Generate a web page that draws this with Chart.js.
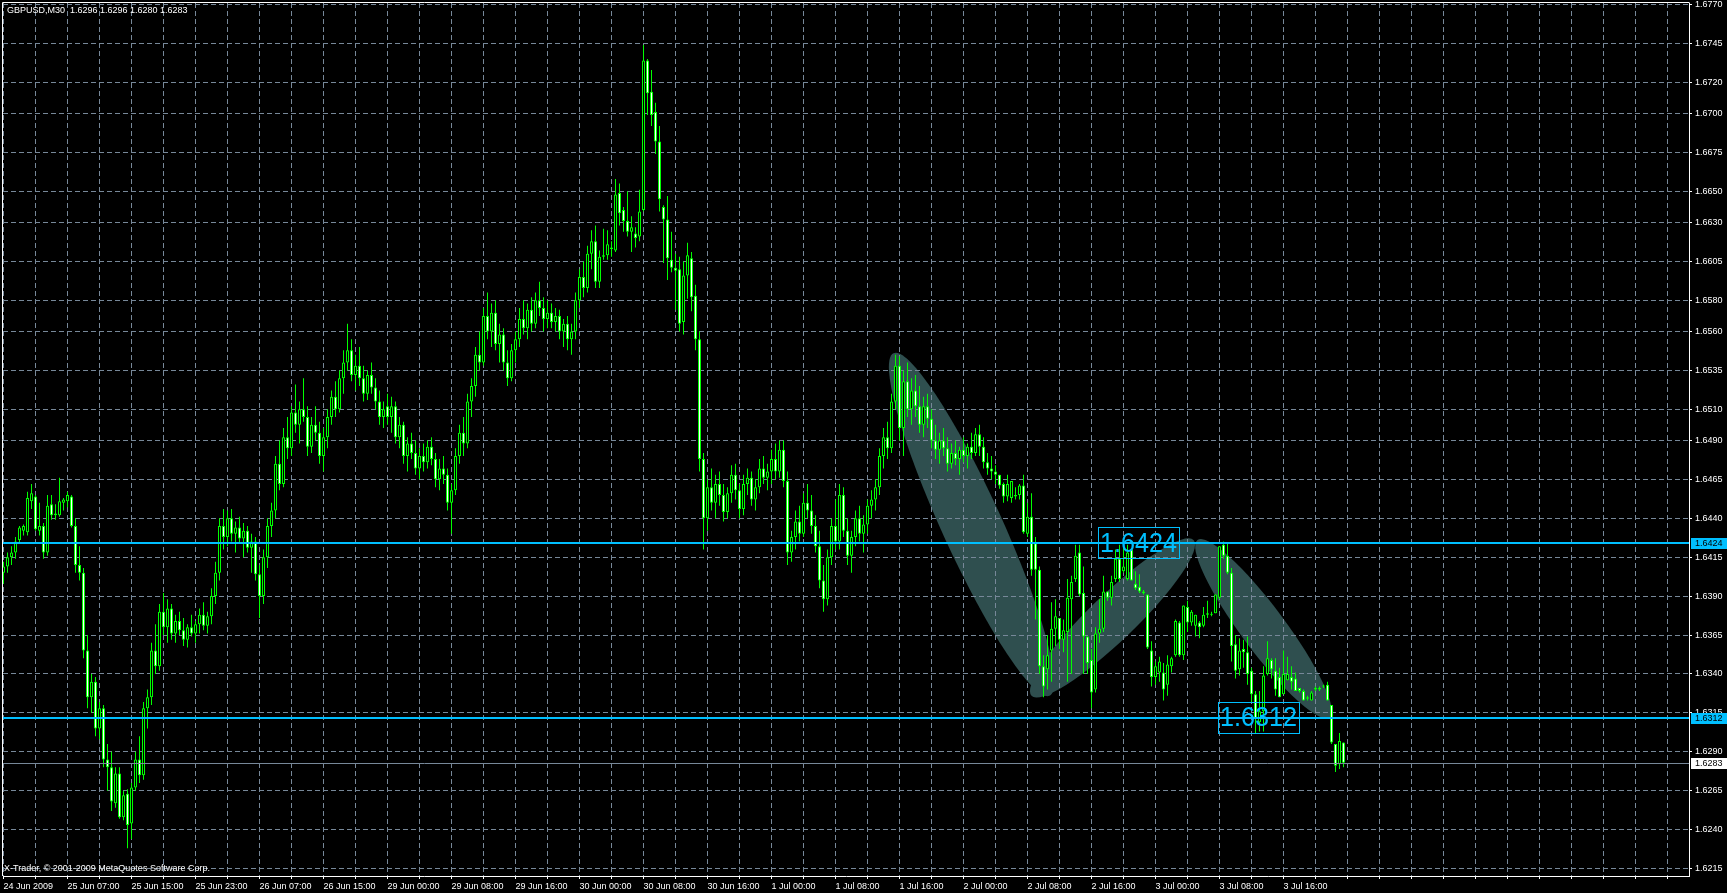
<!DOCTYPE html>
<html>
<head>
<meta charset="utf-8">
<title>GBPUSD,M30</title>
<script src="https://cdn.jsdelivr.net/npm/chart.js@4.4.0/dist/chart.umd.min.js"></script>
<style>
  html, body { margin: 0; padding: 0; background: #000; overflow: hidden; }
  #wrap { width: 1727px; height: 893px; }
</style>
</head>
<body>
<div id="wrap"><canvas id="chart" width="1727" height="893"></canvas></div>
<script>
// GBPUSD M30 bars, 24 Jun 2009 23:00 .. 3 Jul 2009 23:30
const opens = [
  1.6405, 1.6409, 1.6415, 1.6418, 1.6426, 1.6432, 1.6431, 1.6451, 1.6454, 1.6432, 1.6435, 1.6418,
  1.6449, 1.6442, 1.6442, 1.6450, 1.6451, 1.6454, 1.6435, 1.6410, 1.6405, 1.6355, 1.6325, 1.6335,
  1.6305, 1.6318, 1.6285, 1.6280, 1.6257, 1.6276, 1.6248, 1.6263, 1.6244, 1.6267, 1.6285, 1.6275,
  1.6318, 1.6325, 1.6355, 1.6345, 1.6380, 1.6370, 1.6382, 1.6366, 1.6374, 1.6368, 1.6362, 1.6370,
  1.6366, 1.6372, 1.6378, 1.6371, 1.6377, 1.6390, 1.6405, 1.6435, 1.6428, 1.6440, 1.6430, 1.6434,
  1.6427, 1.6432, 1.6421, 1.6425, 1.6404, 1.6390, 1.6415, 1.6435, 1.6445, 1.6475, 1.6462, 1.6492,
  1.6485, 1.6508, 1.6500, 1.6510, 1.6505, 1.6486, 1.6500, 1.6495, 1.6480, 1.6492, 1.6505, 1.6518,
  1.6510, 1.6530, 1.6540, 1.6548, 1.6532, 1.6538, 1.6530, 1.6520, 1.6532, 1.6524, 1.6515, 1.6505,
  1.6512, 1.6505, 1.6512, 1.6492, 1.6500, 1.6480, 1.6488, 1.6482, 1.6472, 1.6480, 1.6476, 1.6486,
  1.6478, 1.6465, 1.6472, 1.6468, 1.6450, 1.6458, 1.6480, 1.6495, 1.6488, 1.6515, 1.6525, 1.6545,
  1.6540, 1.6570, 1.6560, 1.6572, 1.6552, 1.6558, 1.6540, 1.6530, 1.6548, 1.6555, 1.6568, 1.6562,
  1.6574, 1.6565, 1.6580, 1.6575, 1.6568, 1.6572, 1.6566, 1.6570, 1.6560, 1.6565, 1.6555, 1.6560,
  1.6580, 1.6595, 1.6588, 1.6610, 1.6618, 1.6592, 1.6608, 1.6609, 1.6614, 1.6612, 1.6649, 1.6638,
  1.6631, 1.6624, 1.6623, 1.6621, 1.6638, 1.6734, 1.6714, 1.6701, 1.6682, 1.6640, 1.6632, 1.6606,
  1.6601, 1.6600, 1.6566, 1.6596, 1.6607, 1.6583, 1.6555, 1.6478, 1.6440, 1.6460, 1.6450, 1.6462,
  1.6455, 1.6444, 1.6456, 1.6468, 1.6458, 1.6446, 1.6462, 1.6466, 1.6452, 1.6460, 1.6472, 1.6466,
  1.6470, 1.6478, 1.6470, 1.6484, 1.6464, 1.6418, 1.6428, 1.6438, 1.6430, 1.6450, 1.6445, 1.6435,
  1.6422, 1.6400, 1.6388, 1.6415, 1.6435, 1.6425, 1.6455, 1.6432, 1.6416, 1.6428, 1.6440, 1.6430,
  1.6436, 1.6448, 1.6452, 1.6460, 1.6480, 1.6492, 1.6485, 1.6515, 1.6538, 1.6498, 1.6528, 1.6510,
  1.6522, 1.6512, 1.6500, 1.6512, 1.6504, 1.6490, 1.6484, 1.6490, 1.6485, 1.6475, 1.6482, 1.6478,
  1.6484, 1.6480, 1.6486, 1.6482, 1.6494, 1.6486, 1.6476, 1.6472, 1.6470, 1.6468, 1.6462, 1.6454,
  1.6453, 1.6454, 1.6455, 1.6461, 1.6430, 1.6441, 1.6424, 1.6407, 1.6345, 1.6343, 1.6355, 1.6369,
  1.6376, 1.6362, 1.6367, 1.6388, 1.6401, 1.6418, 1.6392, 1.6364, 1.6349, 1.6330, 1.6366, 1.6369,
  1.6393, 1.6389, 1.6401, 1.6414, 1.6406, 1.6401, 1.6420, 1.6398, 1.6396, 1.6393, 1.6391, 1.6355,
  1.6338, 1.6341, 1.6341, 1.6333, 1.6345, 1.6352, 1.6373, 1.6352, 1.6383, 1.6373, 1.6371, 1.6373,
  1.6371, 1.6378, 1.6378, 1.6379, 1.6389, 1.6423, 1.6416, 1.6405, 1.6359, 1.6343, 1.6356, 1.6354,
  1.6342, 1.6327, 1.6309, 1.6316, 1.6340, 1.6349, 1.6342, 1.6338, 1.6327, 1.6336, 1.6338, 1.6337,
  1.6331, 1.6329, 1.6325, 1.6323, 1.6330, 1.6330, 1.6332, 1.6333, 1.6320, 1.6295, 1.6282, 1.6296
];
const highs = [
  1.6412, 1.6418, 1.6422, 1.6428, 1.6435, 1.6436, 1.6457, 1.6462, 1.6455, 1.6450, 1.6437, 1.6455,
  1.6455, 1.6449, 1.6466, 1.6453, 1.6457, 1.6455, 1.6440, 1.6422, 1.6408, 1.6365, 1.6340, 1.6338,
  1.6322, 1.6320, 1.6295, 1.6290, 1.6280, 1.6280, 1.6265, 1.6266, 1.6270, 1.6290, 1.6300, 1.6322,
  1.6330, 1.6360, 1.6372, 1.6385, 1.6392, 1.6388, 1.6385, 1.6378, 1.6380, 1.6376, 1.6372, 1.6378,
  1.6374, 1.6382, 1.6386, 1.6380, 1.6395, 1.6412, 1.6440, 1.6446, 1.6445, 1.6446, 1.6438, 1.6441,
  1.6437, 1.6435, 1.6430, 1.6428, 1.6410, 1.6420, 1.6440, 1.6450, 1.6480, 1.6490, 1.6498, 1.6505,
  1.6512, 1.6526, 1.6515, 1.6530, 1.6512, 1.6505, 1.6512, 1.6502, 1.6498, 1.6510, 1.6522, 1.6528,
  1.6535, 1.6548, 1.6565, 1.6555, 1.6545, 1.6550, 1.6538, 1.6535, 1.6540, 1.6530, 1.6522, 1.6515,
  1.6520, 1.6518, 1.6515, 1.6505, 1.6502, 1.6492, 1.6495, 1.6490, 1.6485, 1.6488, 1.6490, 1.6492,
  1.6482, 1.6478, 1.6480, 1.6472, 1.6462, 1.6485, 1.6500, 1.6505, 1.6520, 1.6530, 1.6550, 1.6560,
  1.6575, 1.6585, 1.6578, 1.6580, 1.6565, 1.6562, 1.6548, 1.6552, 1.6560, 1.6575, 1.6580, 1.6578,
  1.6582, 1.6585, 1.6592, 1.6582, 1.6580, 1.6578, 1.6575, 1.6574, 1.6568, 1.6570, 1.6565, 1.6585,
  1.6600, 1.6605, 1.6615, 1.6625, 1.6628, 1.6612, 1.6626, 1.6625, 1.6618, 1.6658, 1.6655, 1.6640,
  1.6650, 1.6634, 1.6627, 1.6651, 1.6744, 1.6735, 1.6728, 1.6707, 1.6692, 1.6641, 1.6647, 1.6624,
  1.6610, 1.6608, 1.6605, 1.6617, 1.6611, 1.6590, 1.6560, 1.6482, 1.6465, 1.6472, 1.6468, 1.6470,
  1.6462, 1.6460, 1.6474, 1.6475, 1.6462, 1.6468, 1.6472, 1.6470, 1.6465, 1.6478, 1.6480, 1.6475,
  1.6484, 1.6488, 1.6490, 1.6490, 1.6470, 1.6432, 1.6445, 1.6448, 1.6456, 1.6462, 1.6455, 1.6442,
  1.6432, 1.6410, 1.6420, 1.6440, 1.6452, 1.6462, 1.6460, 1.6440, 1.6432, 1.6445, 1.6448, 1.6442,
  1.6452, 1.6458, 1.6465, 1.6485, 1.6498, 1.6502, 1.6520, 1.6545, 1.6544, 1.6535, 1.6540, 1.6530,
  1.6532, 1.6525, 1.6518, 1.6520, 1.6510, 1.6500, 1.6495, 1.6498, 1.6492, 1.6488, 1.6490, 1.6486,
  1.6492, 1.6488, 1.6495, 1.6498, 1.6500, 1.6492, 1.6482, 1.6480, 1.6474, 1.6468, 1.6463, 1.6468,
  1.6464, 1.6460, 1.6462, 1.6468, 1.6450, 1.6456, 1.6428, 1.6409, 1.6352, 1.6365, 1.6386, 1.6388,
  1.6376, 1.6375, 1.6401, 1.6403, 1.6423, 1.6423, 1.6409, 1.6364, 1.6356, 1.6370, 1.6388, 1.6403,
  1.6393, 1.6403, 1.6420, 1.6423, 1.6422, 1.6423, 1.6420, 1.6406, 1.6404, 1.6394, 1.6391, 1.6361,
  1.6348, 1.6351, 1.6347, 1.6352, 1.6351, 1.6375, 1.6374, 1.6384, 1.6387, 1.6381, 1.6378, 1.6374,
  1.6383, 1.6387, 1.6380, 1.6391, 1.6422, 1.6425, 1.6424, 1.6408, 1.6365, 1.6363, 1.6362, 1.6364,
  1.6344, 1.6329, 1.6329, 1.6345, 1.6361, 1.6350, 1.6350, 1.6344, 1.6355, 1.6351, 1.6345, 1.6341,
  1.6331, 1.6330, 1.6326, 1.6329, 1.6332, 1.6332, 1.6333, 1.6335, 1.6320, 1.6295, 1.6302, 1.6296
];
const lows = [
  1.6398, 1.6405, 1.6410, 1.6414, 1.6424, 1.6429, 1.6429, 1.6446, 1.6432, 1.6429, 1.6414, 1.6416,
  1.6439, 1.6439, 1.6441, 1.6445, 1.6447, 1.6434, 1.6405, 1.6400, 1.6350, 1.6318, 1.6315, 1.6300,
  1.6298, 1.6280, 1.6265, 1.6252, 1.6254, 1.6247, 1.6246, 1.6228, 1.6234, 1.6265, 1.6270, 1.6272,
  1.6305, 1.6320, 1.6340, 1.6342, 1.6365, 1.6360, 1.6362, 1.6360, 1.6365, 1.6358, 1.6357, 1.6364,
  1.6360, 1.6366, 1.6368, 1.6366, 1.6372, 1.6385, 1.6400, 1.6420, 1.6422, 1.6425, 1.6418, 1.6424,
  1.6415, 1.6418, 1.6405, 1.6400, 1.6376, 1.6385, 1.6408, 1.6428, 1.6440, 1.6458, 1.6460, 1.6478,
  1.6480, 1.6495, 1.6488, 1.6502, 1.6480, 1.6482, 1.6490, 1.6475, 1.6470, 1.6485, 1.6500, 1.6505,
  1.6508, 1.6520, 1.6535, 1.6528, 1.6522, 1.6525, 1.6515, 1.6516, 1.6520, 1.6510, 1.6500, 1.6498,
  1.6500, 1.6495, 1.6488, 1.6485, 1.6475, 1.6470, 1.6478, 1.6468, 1.6465, 1.6470, 1.6472, 1.6474,
  1.6460, 1.6458, 1.6462, 1.6445, 1.6430, 1.6455, 1.6475, 1.6480, 1.6485, 1.6505, 1.6518, 1.6535,
  1.6538, 1.6555, 1.6550, 1.6548, 1.6540, 1.6535, 1.6525, 1.6528, 1.6540, 1.6550, 1.6558, 1.6555,
  1.6560, 1.6562, 1.6570, 1.6560, 1.6562, 1.6562, 1.6560, 1.6555, 1.6550, 1.6548, 1.6545, 1.6555,
  1.6575, 1.6582, 1.6585, 1.6600, 1.6588, 1.6588, 1.6606, 1.6606, 1.6608, 1.6611, 1.6628, 1.6624,
  1.6621, 1.6611, 1.6614, 1.6618, 1.6637, 1.6699, 1.6692, 1.6674, 1.6637, 1.6604, 1.6593, 1.6598,
  1.6574, 1.6560, 1.6558, 1.6581, 1.6573, 1.6548, 1.6470, 1.6420, 1.6432, 1.6445, 1.6440, 1.6448,
  1.6438, 1.6440, 1.6450, 1.6452, 1.6440, 1.6442, 1.6455, 1.6448, 1.6445, 1.6456, 1.6462, 1.6458,
  1.6462, 1.6465, 1.6466, 1.6460, 1.6410, 1.6412, 1.6420, 1.6425, 1.6428, 1.6440, 1.6430, 1.6418,
  1.6395, 1.6380, 1.6384, 1.6410, 1.6420, 1.6420, 1.6428, 1.6410, 1.6405, 1.6422, 1.6425, 1.6418,
  1.6430, 1.6440, 1.6445, 1.6455, 1.6472, 1.6478, 1.6482, 1.6510, 1.6490, 1.6480, 1.6505, 1.6500,
  1.6505, 1.6495, 1.6492, 1.6498, 1.6485, 1.6478, 1.6475, 1.6480, 1.6470, 1.6472, 1.6474, 1.6468,
  1.6476, 1.6472, 1.6478, 1.6480, 1.6480, 1.6472, 1.6468, 1.6465, 1.6462, 1.6459, 1.6450, 1.6451,
  1.6450, 1.6452, 1.6452, 1.6430, 1.6428, 1.6403, 1.6375, 1.6340, 1.6325, 1.6330, 1.6335, 1.6358,
  1.6356, 1.6354, 1.6335, 1.6340, 1.6399, 1.6390, 1.6340, 1.6340, 1.6318, 1.6328, 1.6360, 1.6367,
  1.6387, 1.6384, 1.6399, 1.6399, 1.6405, 1.6400, 1.6400, 1.6394, 1.6392, 1.6391, 1.6356, 1.6332,
  1.6333, 1.6335, 1.6323, 1.6326, 1.6341, 1.6351, 1.6351, 1.6349, 1.6367, 1.6371, 1.6364, 1.6363,
  1.6370, 1.6376, 1.6377, 1.6379, 1.6388, 1.6414, 1.6404, 1.6348, 1.6337, 1.6339, 1.6344, 1.6333,
  1.6322, 1.6302, 1.6303, 1.6303, 1.6339, 1.6337, 1.6326, 1.6325, 1.6327, 1.6336, 1.6330, 1.6329,
  1.6328, 1.6323, 1.6323, 1.6323, 1.6329, 1.6329, 1.6331, 1.6323, 1.6295, 1.6277, 1.6279, 1.6280
];
const closes = [
  1.6409, 1.6415, 1.6418, 1.6425, 1.6434, 1.6435, 1.6453, 1.6456, 1.6433, 1.6435, 1.6418, 1.6448,
  1.6442, 1.6443, 1.6451, 1.6452, 1.6455, 1.6435, 1.6410, 1.6405, 1.6355, 1.6325, 1.6335, 1.6305,
  1.6318, 1.6285, 1.6280, 1.6258, 1.6276, 1.6248, 1.6262, 1.6243, 1.6267, 1.6285, 1.6275, 1.6318,
  1.6325, 1.6355, 1.6345, 1.6380, 1.6370, 1.6382, 1.6366, 1.6374, 1.6368, 1.6362, 1.6370, 1.6366,
  1.6372, 1.6378, 1.6371, 1.6377, 1.6390, 1.6405, 1.6435, 1.6428, 1.6440, 1.6430, 1.6434, 1.6427,
  1.6432, 1.6421, 1.6425, 1.6404, 1.6390, 1.6415, 1.6435, 1.6445, 1.6475, 1.6462, 1.6492, 1.6485,
  1.6508, 1.6500, 1.6510, 1.6505, 1.6486, 1.6500, 1.6495, 1.6480, 1.6492, 1.6505, 1.6518, 1.6510,
  1.6530, 1.6540, 1.6548, 1.6532, 1.6538, 1.6530, 1.6520, 1.6532, 1.6524, 1.6515, 1.6505, 1.6510,
  1.6505, 1.6512, 1.6492, 1.6500, 1.6480, 1.6488, 1.6482, 1.6472, 1.6480, 1.6476, 1.6486, 1.6478,
  1.6465, 1.6472, 1.6468, 1.6450, 1.6458, 1.6480, 1.6495, 1.6488, 1.6515, 1.6525, 1.6545, 1.6540,
  1.6570, 1.6560, 1.6572, 1.6552, 1.6558, 1.6540, 1.6530, 1.6548, 1.6555, 1.6568, 1.6562, 1.6574,
  1.6565, 1.6580, 1.6575, 1.6568, 1.6572, 1.6566, 1.6570, 1.6560, 1.6565, 1.6555, 1.6560, 1.6580,
  1.6595, 1.6588, 1.6610, 1.6618, 1.6592, 1.6608, 1.6609, 1.6616, 1.6613, 1.6648, 1.6636, 1.6631,
  1.6624, 1.6627, 1.6620, 1.6637, 1.6734, 1.6713, 1.6699, 1.6682, 1.6645, 1.6632, 1.6607, 1.6601,
  1.6599, 1.6565, 1.6596, 1.6609, 1.6582, 1.6555, 1.6478, 1.6440, 1.6460, 1.6450, 1.6462, 1.6455,
  1.6444, 1.6456, 1.6468, 1.6458, 1.6446, 1.6462, 1.6466, 1.6452, 1.6460, 1.6472, 1.6466, 1.6470,
  1.6478, 1.6470, 1.6484, 1.6464, 1.6418, 1.6428, 1.6438, 1.6430, 1.6450, 1.6445, 1.6435, 1.6422,
  1.6400, 1.6388, 1.6415, 1.6435, 1.6425, 1.6455, 1.6432, 1.6416, 1.6428, 1.6440, 1.6430, 1.6436,
  1.6448, 1.6452, 1.6460, 1.6480, 1.6492, 1.6485, 1.6515, 1.6538, 1.6498, 1.6528, 1.6510, 1.6522,
  1.6512, 1.6500, 1.6512, 1.6504, 1.6490, 1.6484, 1.6490, 1.6485, 1.6475, 1.6482, 1.6478, 1.6484,
  1.6480, 1.6486, 1.6482, 1.6494, 1.6486, 1.6476, 1.6472, 1.6470, 1.6468, 1.6461, 1.6454, 1.6462,
  1.6464, 1.6455, 1.6461, 1.6431, 1.6441, 1.6407, 1.6407, 1.6345, 1.6332, 1.6352, 1.6369, 1.6377,
  1.6362, 1.6368, 1.6389, 1.6399, 1.6416, 1.6391, 1.6364, 1.6347, 1.6328, 1.6366, 1.6369, 1.6393,
  1.6389, 1.6399, 1.6414, 1.6401, 1.6409, 1.6418, 1.6400, 1.6395, 1.6393, 1.6392, 1.6357, 1.6338,
  1.6345, 1.6348, 1.6330, 1.6346, 1.6350, 1.6374, 1.6352, 1.6384, 1.6373, 1.6380, 1.6378, 1.6370,
  1.6378, 1.6379, 1.6378, 1.6391, 1.6422, 1.6416, 1.6405, 1.6358, 1.6342, 1.6355, 1.6354, 1.6340,
  1.6327, 1.6311, 1.6316, 1.6339, 1.6350, 1.6343, 1.6330, 1.6325, 1.6340, 1.6340, 1.6335, 1.6329,
  1.6329, 1.6323, 1.6324, 1.6328, 1.6331, 1.6331, 1.6332, 1.6323, 1.6296, 1.6281, 1.6297, 1.6283
];

// time axis: one label every 16 bars (8 hours)
const timeLabels = [
  '24 Jun 2009', '25 Jun 07:00', '25 Jun 15:00', '25 Jun 23:00', '26 Jun 07:00', '26 Jun 15:00',
  '29 Jun 00:00', '29 Jun 08:00', '29 Jun 16:00', '30 Jun 00:00', '30 Jun 08:00', '30 Jun 16:00',
  '1 Jul 00:00', '1 Jul 08:00', '1 Jul 16:00', '2 Jul 00:00', '2 Jul 08:00', '2 Jul 16:00',
  '3 Jul 00:00', '3 Jul 08:00', '3 Jul 16:00'
];
const priceTicks = [
  1.6215, 1.6240, 1.6265, 1.6290, 1.6315, 1.6340, 1.6365, 1.6390, 1.6415, 1.6440, 1.6465, 1.6490,
  1.6510, 1.6535, 1.6560, 1.6580, 1.6605, 1.6630, 1.6650, 1.6675, 1.6700, 1.6720, 1.6745, 1.6770
];

// horizontal levels and their text labels
const levelPrices = [1.6424, 1.6312];
const levelLabelBars = [283.5, 313.5];
const bidPrice = 1.6283;

// shaded ellipses: [start bar, end bar] and [start price, end price]
const ellipseBars = [[222.5, 261.5], [257, 297.5], [298.5, 331.5]];
const ellipsePrices = [[1.6546, 1.6326], [1.6326, 1.6426], [1.6426, 1.6312]];

const symbolName = 'GBPUSD,M30';
const copyright = 'X-Trader, \u00a9 2001-2009 MetaQuotes Software Corp.';

const LIME = '#00ff00';
const GRID = '#778899';
const CYAN = '#00bfff';
const FONT = "'Liberation Sans', Arial, sans-serif";
const ellipseWidths = [60, 46, 44];

const last = closes.length - 1;
const fmt = v => v.toFixed(4);

// background, ellipses, level lines, text objects, price tags
const mt4Overlay = {
  id: 'mt4Overlay',
  beforeDraw(chart) {
    const { ctx, chartArea: a, scales: { x, y } } = chart;
    ctx.save();
    ctx.fillStyle = '#000';
    ctx.fillRect(0, 0, chart.width, chart.height);
    ctx.beginPath();
    ctx.rect(a.left, a.top, a.right - a.left, a.bottom - a.top);
    ctx.clip();
    ctx.fillStyle = '#2f4f4f';
    ellipseBars.forEach((b, k) => {
      const x1 = x.getPixelForValue(b[0]);
      const x2 = x.getPixelForValue(b[1]);
      const y1 = y.getPixelForValue(ellipsePrices[k][0]);
      const y2 = y.getPixelForValue(ellipsePrices[k][1]);
      const len = Math.hypot(x2 - x1, y2 - y1);
      ctx.beginPath();
      ctx.ellipse((x1 + x2) / 2, (y1 + y2) / 2, len / 2, ellipseWidths[k] / 2,
        Math.atan2(y2 - y1, x2 - x1), 0, Math.PI * 2);
      ctx.fill();
    });
    ctx.restore();
  },
  afterDatasetsDraw(chart) {
    const { ctx, chartArea: a, scales: { x, y } } = chart;
    ctx.save();

    // support / resistance lines
    ctx.strokeStyle = CYAN;
    ctx.lineWidth = 2;
    levelPrices.forEach(p => {
      const py = Math.round(y.getPixelForValue(p));
      ctx.beginPath();
      ctx.moveTo(a.left, py);
      ctx.lineTo(a.right, py);
      ctx.stroke();
    });

    // bid line
    ctx.strokeStyle = GRID;
    ctx.lineWidth = 1;
    const by = Math.round(y.getPixelForValue(bidPrice)) + 0.5;
    ctx.beginPath();
    ctx.moveTo(a.left, by);
    ctx.lineTo(a.right, by);
    ctx.stroke();

    // boxed price texts
    levelLabelBars.forEach((b, k) => {
      const cx = x.getPixelForValue(b);
      const cy = y.getPixelForValue(levelPrices[k]);
      const txt = fmt(levelPrices[k]);
      ctx.strokeStyle = CYAN;
      ctx.lineWidth = 1;
      ctx.strokeRect(Math.round(cx - 40) + 0.5, Math.round(cy - 16) + 0.5, 81, 31);
      ctx.font = '28px ' + FONT;
      const w = ctx.measureText(txt).width;
      ctx.save();
      ctx.translate(cx + 1, cy + 1);
      ctx.scale(77 / w, 1);
      ctx.fillStyle = CYAN;
      ctx.textAlign = 'center';
      ctx.textBaseline = 'middle';
      ctx.fillText(txt, 0, 0);
      ctx.restore();
    });

    // frame
    ctx.strokeStyle = '#ffffff';
    ctx.lineWidth = 1;
    ctx.beginPath();
    ctx.moveTo(a.left - 0.5, a.bottom);
    ctx.lineTo(a.left - 0.5, a.top - 0.5);
    ctx.lineTo(a.right + 0.5, a.top - 0.5);
    ctx.stroke();

    // title and copyright
    ctx.fillStyle = '#ffffff';
    ctx.font = '9px ' + FONT;
    ctx.textAlign = 'left';
    ctx.textBaseline = 'alphabetic';
    const title = symbolName + '  ' + [opens[last], highs[last], lows[last], closes[last]].map(fmt).join(' ');
    ctx.fillText(title, a.left + 4, a.top + 10);
    ctx.fillText(copyright, a.left + 1, a.bottom - 5);
    ctx.restore();
  },
  afterDraw(chart) {
    const { ctx, chartArea: a, scales: { y } } = chart;
    const tags = [levelPrices[0], levelPrices[1], bidPrice];
    const fills = [CYAN, CYAN, '#ffffff'];
    ctx.save();
    ctx.font = '9px ' + FONT;
    ctx.textBaseline = 'middle';
    ctx.textAlign = 'left';
    tags.forEach((p, k) => {
      const py = Math.round(y.getPixelForValue(p));
      ctx.fillStyle = fills[k];
      ctx.fillRect(a.right + 2, py - 5, chart.width - a.right - 2, 11);
      ctx.fillStyle = '#000';
      ctx.fillText(fmt(p), a.right + 6, py + 0.5);
    });
    ctx.restore();
  }
};

const bars = closes.map((_, i) => i);
const wickData = bars.map(i => ({ x: i, y: [lows[i], highs[i]] }));
const bodyData = bars.map(i => ({ x: i, y: [opens[i], closes[i]] }));
const bodyFill = bars.map(i => closes[i] >= opens[i] ? '#000000' : '#ffffff');

const ctx = document.getElementById('chart');
new Chart(ctx, {
  type: 'bar',
  data: {
    datasets: [
      {
        label: 'wick',
        data: wickData,
        backgroundColor: LIME,
        borderWidth: 0,
        barThickness: 1,
        maxBarThickness: 1,
        inflateAmount: 0,
        grouped: false,
        order: 2
      },
      {
        label: 'body',
        data: bodyData,
        backgroundColor: bodyFill,
        borderColor: LIME,
        borderWidth: 1,
        borderSkipped: false,
        barThickness: 3,
        maxBarThickness: 3,
        minBarLength: 1,
        inflateAmount: 0,
        grouped: false,
        order: 1
      }
    ]
  },
  options: {
    responsive: false,
    animation: false,
    devicePixelRatio: 1,
    layout: { padding: { left: 3, top: 3, right: 0, bottom: 0 }, autoPadding: false },
    plugins: { legend: { display: false }, tooltip: { enabled: false } },
    scales: {
      x: {
        type: 'linear',
        min: -0.125,
        max: 421.375,
        offset: false,
        afterBuildTicks: s => {
          const t = [];
          for (let v = 0; v <= s.max; v += 8) t.push({ value: v });
          s.ticks = t;
        },
        afterFit: s => { s.height = 17; s.paddingLeft = 0; s.paddingRight = 0; },
        grid: { color: GRID, offset: false, tickLength: 3, tickColor: '#ffffff' },
        border: { display: true, color: '#ffffff', width: 1, dash: [5, 3] },
        ticks: {
          color: '#ffffff',
          font: { family: FONT, size: 9 },
          align: 'start',
          autoSkip: false,
          maxRotation: 0,
          padding: 2,
          callback: v => (v % 16 === 0 && timeLabels[v / 16]) ? timeLabels[v / 16] : ''
        }
      },
      y: {
        position: 'right',
        min: 1.62102,
        max: 1.67710,
        afterBuildTicks: s => { s.ticks = priceTicks.map(v => ({ value: v })); },
        afterFit: s => { s.width = 38; s.paddingTop = 0; s.paddingBottom = 0; },
        grid: { color: GRID, tickLength: 3, tickColor: '#ffffff' },
        border: { display: true, color: '#ffffff', width: 1, dash: [5, 3] },
        ticks: {
          color: '#ffffff',
          font: { family: FONT, size: 9 },
          padding: 3,
          autoSkip: false,
          callback: v => fmt(v)
        }
      }
    }
  },
  plugins: [mt4Overlay]
});
</script>
</body>
</html>
